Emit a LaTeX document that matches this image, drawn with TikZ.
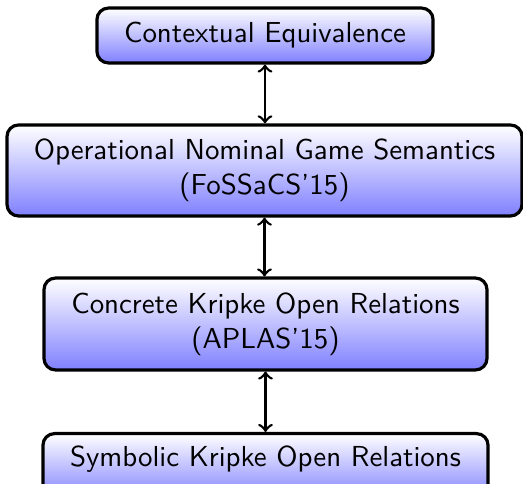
\documentclass[tikz,border=0pt]{standalone}
\begin{document}
\begin{tikzpicture}[x=0.346pt, y=-0.346pt,
  box/.style={draw, line width=1.1pt, rounded corners=4pt,
    top color=white, bottom color=blue!50,
    align=center, font=\sffamily, inner sep=0pt},
  link/.style={<->, line width=0.9pt}]
  \useasboundingbox (0,0) rectangle (523,484);
  \node[box, minimum width=116.3pt, minimum height=19pt] (ce) at (265,35.5)
    {Contextual Equivalence};
  \node[box, minimum width=178.2pt, minimum height=31.5pt] (ons) at (264.5,170.5)
    {Operational Nominal Game Semantics\\(FoSSaCS'15)};
  \node[box, minimum width=153.3pt, minimum height=31.8pt] (cko) at (265.5,324)
    {Concrete Kripke Open Relations\\(APLAS'15)};
  % the lowest box runs past the lower edge of the page
  \node[box, minimum width=154pt, minimum height=23pt, anchor=north,
    text height=6.9pt, text depth=7.4pt] (sko) at (265.5,432)
    {Symbolic Kripke Open Relations};
  \draw[link] (ce.south) -- (ce.south |- ons.north);
  \draw[link] (ons.south) -- (ons.south |- cko.north);
  \draw[link] (cko.south) -- (cko.south |- sko.north);
\end{tikzpicture}
\end{document}
